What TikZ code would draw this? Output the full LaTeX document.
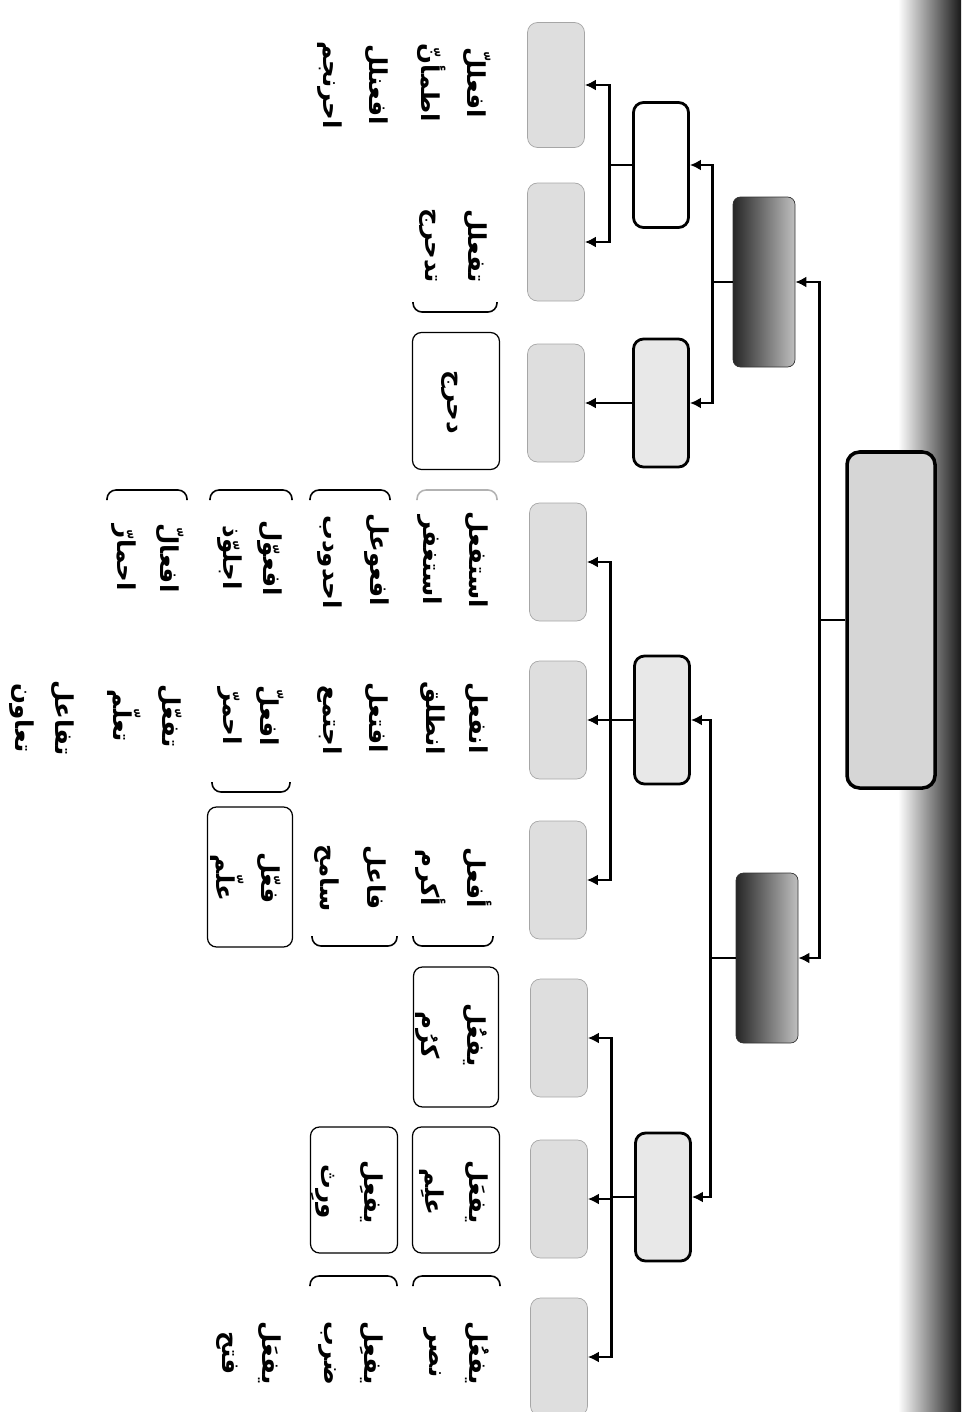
\documentclass[tikz,border=0pt]{standalone}
\usepackage{fontspec}
\newfontfamily\arabicfont[Script=Arabic]{DejaVu Sans}
\TeXXeTstate=1
\usepackage{tikz}
\usetikzlibrary{arrows.meta}

\newcommand\pxu{0.2mm}
\newcommand\artxt[1]{\beginR #1\endR}
% open ends of the word boxes
\newcommand\topcap[3]{\draw[capline] (#1,#3+10) -- (#1,#3) -- (#2,#3) -- (#2,#3+10);}
\newcommand\botcap[3]{\draw[capline] (#1,#3-10) -- (#1,#3) -- (#2,#3) -- (#2,#3-10);}

\begin{document}
\begin{tikzpicture}[x=0.2mm, y=-0.2mm,
    root/.style={draw, line width=2pt, fill=black!16, rounded corners=2.5mm,
                 minimum width=88*\pxu, minimum height=336*\pxu, inner sep=0pt},
    bar/.style={draw=black!80, left color=black!85, right color=black!25, rounded corners=1.5mm,
                minimum width=62*\pxu, minimum height=170*\pxu, inner sep=0pt},
    mid/.style={draw, line width=1.6pt, fill=black!9, rounded corners=2mm,
                minimum width=55*\pxu, minimum height=128*\pxu, inner sep=0pt},
    leaf/.style={draw=black!35, fill=black!13, rounded corners=2mm,
                 minimum width=57*\pxu, minimum height=118*\pxu, inner sep=0pt},
    pairbox/.style={draw, line width=0.7pt, rounded corners=1.8mm, inner sep=0pt},
    capline/.style={line width=0.9pt, rounded corners=1.8mm},
    word/.style={rotate=-90, inner sep=0pt,
                 font=\arabicfont\bfseries\fontsize{14}{16}\selectfont},
    conn/.style={line width=1.6pt, -{Latex[length=2.2mm, width=2.2mm]}}]
  \useasboundingbox (0,0) rectangle (961,1412);
  % dark edge of the scanned page
  \shade[left color=white, right color=black!90] (898,-2) rectangle (961,1414);

  % Root and second level
  \node[root] (root) at (891,620) {};
  \node[bar] (bara) at (764,282) {};
  \node[bar] (barb) at (767,958) {};
  \draw[conn] (root.west) -- ++(-26,0) |- (bara.east);
  \draw[conn] (root.west) -- ++(-26,0) |- (barb.east);

  % Third level
  \node[mid, fill=white, minimum height=125*\pxu] (ma) at (661,165) {};
  \node[mid] (mb) at (661,403) {};
  \node[mid] (mc) at (662,720) {};
  \node[mid] (md) at (663,1197) {};
  \draw[conn] (bara.west) -- ++(-20,0) |- (ma.east);
  \draw[conn] (bara.west) -- ++(-20,0) |- (mb.east);
  \draw[conn] (barb.west) -- ++(-25,0) |- (mc.east);
  \draw[conn] (barb.west) -- ++(-25,0) |- (md.east);

  % Fourth level
  \node[leaf, minimum height=125*\pxu] (la) at (556,85) {};
  \node[leaf] (lb) at (556,242) {};
  \node[leaf] (lc) at (556,403) {};
  \node[leaf] (ld) at (558,562) {};
  \node[leaf] (le) at (558,720) {};
  \node[leaf] (lf) at (558,880) {};
  \node[leaf] (lg) at (559,1038) {};
  \node[leaf] (lh) at (559,1199) {};
  \node[leaf] (li) at (559,1357) {};
  \draw[conn] (ma.west) -- ++(-23,0) |- (la.east);
  \draw[conn] (ma.west) -- ++(-23,0) |- (lb.east);
  \draw[conn] (mb.west) -- (lc.east);
  \draw[conn] (mc.west) -- ++(-23,0) |- (ld.east);
  \draw[conn] (mc.west) -- ++(-23,0) |- (le.east);
  \draw[conn] (mc.west) -- ++(-23,0) |- (lf.east);
  \draw[conn] (md.west) -- ++(-23,0) |- (lg.east);
  \draw[conn] (md.west) -- ++(-23,0) |- (lh.east);
  \draw[conn] (md.west) -- ++(-23,0) |- (li.east);

  % Boxes round the words
  \node[pairbox, minimum width=87*\pxu, minimum height=137*\pxu] (bxc) at (456,401) {};
  \node[pairbox, minimum width=85*\pxu, minimum height=140*\pxu] (bxf) at (250,877) {};
  \node[pairbox, minimum width=85*\pxu, minimum height=140*\pxu] (bxg) at (456,1037) {};
  \node[pairbox, minimum width=87*\pxu, minimum height=126*\pxu] (bxha) at (456,1190) {};
  \node[pairbox, minimum width=87*\pxu, minimum height=126*\pxu] (bxhb) at (354,1190) {};
  \botcap{413}{497}{312}
  \topcap{107}{187}{490} \topcap{210}{292}{490} \topcap{310}{390}{490}
  \draw[capline, black!30] (417,500) -- (417,490) -- (497,490) -- (497,500);
  \botcap{212}{290}{792}
  \botcap{312}{397}{946} \botcap{413}{493}{946}
  \topcap{310}{397}{1276} \topcap{413}{500}{1276}

  % Words
  \node[word] (pa1) at (477,83) {\artxt{افعللّ}};
  \node[word] (ea1) at (432,83) {\artxt{اطمأنّ}};
  \node[word] (pa2) at (377,85) {\artxt{افعنلل}};
  \node[word] (ea2) at (330,85) {\artxt{احرنجم}};
  \node[word] (pb1) at (476,246) {\artxt{تفعلل}};
  \node[word] (eb1) at (428,246) {\artxt{تدحرج}};
  \node[word] (ec1) at (450,402) {\artxt{دحرج}};

  \node[word] (pd1) at (477,560) {\artxt{استفعل}};
  \node[word] (ed1) at (430,560) {\artxt{استغفر}};
  \node[word] (pd2) at (377,560) {\artxt{افعوعل}};
  \node[word] (ed2) at (330,562) {\artxt{احدودب}};
  \node[word] (pd3) at (270,558) {\artxt{افعوّل}};
  \node[word] (ed3) at (230,558) {\artxt{اجلوّذ}};
  \node[word] (pd4) at (170,558) {\artxt{افعالّ}};
  \node[word] (ed4) at (124,558) {\artxt{احمارّ}};

  \node[word] (pe1) at (477,718) {\artxt{انفعل}};
  \node[word] (ee1) at (433,718) {\artxt{انطلق}};
  \node[word] (pe2) at (377,718) {\artxt{افتعل}};
  \node[word] (ee2) at (330,720) {\artxt{اجتمع}};
  \node[word] (pe3) at (270,716) {\artxt{افعلّ}};
  \node[word] (ee3) at (230,716) {\artxt{احمرّ}};
  \node[word] (pe4) at (170,716) {\artxt{تفعّل}};
  \node[word] (ee4) at (124,716) {\artxt{تعلّم}};
  \node[word] (pe5) at (63,718) {\artxt{تفاعل}};
  \node[word] (ee5) at (22,718) {\artxt{تعاون}};

  \node[word] (pf1) at (477,878) {\artxt{أفعل}};
  \node[word] (ef1) at (431,878) {\artxt{أكرم}};
  \node[word] (pf2) at (375,878) {\artxt{فاعل}};
  \node[word] (ef2) at (327,878) {\artxt{سامح}};
  \node[word] (pf3) at (269,878) {\artxt{فعّل}};
  \node[word] (ef3) at (227,878) {\artxt{علّم}};

  \node[word] (pg1) at (475,1035) {\artxt{يفعُل}};
  \node[word] (eg1) at (428,1035) {\artxt{كرُم}};

  \node[word] (ph1) at (477,1192) {\artxt{يفعَل}};
  \node[word] (eh1) at (432,1192) {\artxt{علِم}};
  \node[word] (ph2) at (372,1192) {\artxt{يفعِل}};
  \node[word] (eh2) at (323,1192) {\artxt{ورِث}};

  \node[word] (pi1) at (477,1353) {\artxt{يفعُل}};
  \node[word] (ei1) at (432,1353) {\artxt{نصر}};
  \node[word] (pi2) at (372,1353) {\artxt{يفعِل}};
  \node[word] (ei2) at (327,1353) {\artxt{ضرب}};
  \node[word] (pi3) at (270,1353) {\artxt{يفعَل}};
  \node[word] (ei3) at (227,1353) {\artxt{فتح}};
\end{tikzpicture}
\end{document}
